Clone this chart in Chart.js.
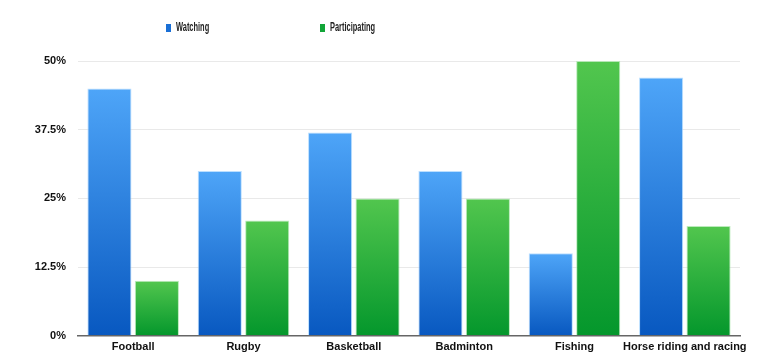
<!DOCTYPE html>
<html>
<head>
<meta charset="utf-8">
<script src="https://cdn.jsdelivr.net/npm/chart.js@4/dist/chart.umd.min.js"></script>
<style>
  body { margin: 0; background: #fff; }
  .wrap { position: relative; width: 765px; height: 364px; }
  .legend { position: absolute; top: 20px; font: bold 12px "Liberation Sans", Arial, sans-serif; color: #222; white-space: nowrap; }
  .legend .txt { display: inline-block; transform: scaleX(0.62); transform-origin: left center; }
  .legend span.box { display: inline-block; width: 5px; height: 8px; margin-right: 5px; vertical-align: -1px; }
</style>
</head>
<body>
<div class="wrap">
  <canvas id="myChart" width="765" height="364"></canvas>
  <div class="legend" style="left:166px"><span class="box" style="background:#1a6fd6"></span><span class="txt">Watching</span></div>
  <div class="legend" style="left:320px"><span class="box" style="background:#12a538"></span><span class="txt">Participating</span></div>
</div>
<script>
const sports = ["Football", "Rugby", "Basketball", "Badminton", "Fishing", "Horse riding and racing"];
const watching = [45, 30, 37, 30, 15, 47];
const participating = [10, 21, 25, 25, 50, 20];
const yTicks = [0, 12.5, 25, 37.5, 50];

const font = { family: "'Liberation Sans', Arial, sans-serif", size: 11, weight: "bold" };

function barGradient(topColor, bottomColor) {
  return (context) => {
    const chart = context.chart;
    const area = chart.chartArea;
    if (!area) return bottomColor;
    const y = chart.scales.y;
    const top = y.getPixelForValue(context.raw);
    const bottom = y.getPixelForValue(0);
    const g = chart.ctx.createLinearGradient(0, top, 0, bottom);
    g.addColorStop(0, topColor);
    g.addColorStop(1, bottomColor);
    return g;
  };
}

const config = {
  type: "bar",
  data: {
    labels: sports,
    datasets: [
      {
        label: "Watching",
        data: watching,
        backgroundColor: barGradient("#4ea5f8", "#0858c0"),
        borderColor: "rgba(170,215,255,0.8)",
        borderWidth: 1,
        categoryPercentage: 0.86,
        barPercentage: 0.93,
      },
      {
        label: "Participating",
        data: participating,
        backgroundColor: barGradient("#52c64e", "#04972c"),
        borderColor: "rgba(170,230,170,0.8)",
        borderWidth: 1,
        categoryPercentage: 0.86,
        barPercentage: 0.93,
      },
    ],
  },
  options: {
    responsive: false,
    animation: false,
    layout: { padding: { top: 61, right: 25, bottom: 5, left: 0 } },
    plugins: { legend: { display: false }, tooltip: { enabled: false } },
    scales: {
      x: {
        grid: { display: false, drawTicks: false },
        border: { display: true, color: "#666", width: 1.5 },
        ticks: { color: "#111", font: font, padding: 5, maxRotation: 0, autoSkip: false },
      },
      y: {
        min: 0,
        max: 50,
        afterBuildTicks: (scale) => {
          scale.ticks = yTicks.map((v) => ({ value: v }));
        },
        afterFit: (scale) => {
          scale.width = 78;
        },
        grid: { color: "#e9e9e9", drawTicks: false },
        border: { display: false },
        ticks: {
          color: "#111",
          font: font,
          padding: 12,
          callback: (v) => v + "%",
        },
      },
    },
  },
};

new Chart(document.getElementById("myChart"), config);
</script>
</body>
</html>
